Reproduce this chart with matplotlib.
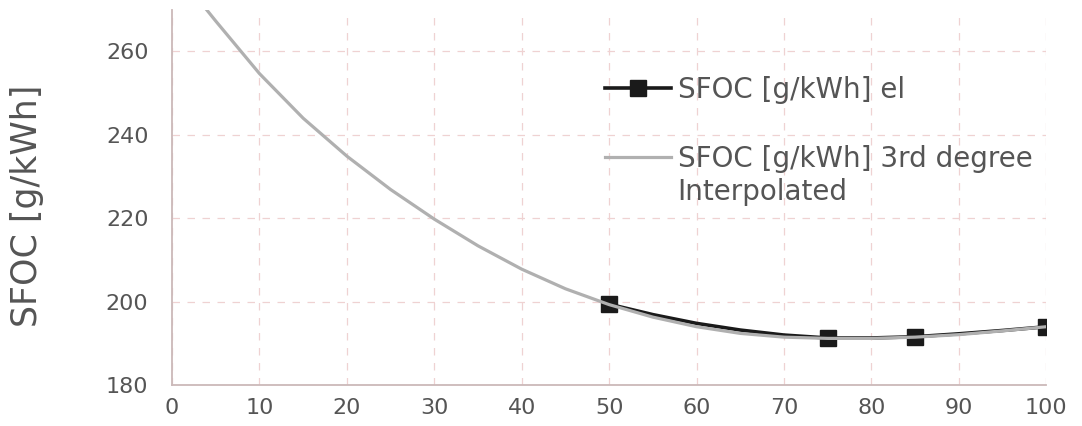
import matplotlib
matplotlib.use("Agg")
import matplotlib.pyplot as plt

load_el = [50, 55, 60, 65, 70, 75, 80, 85, 90, 95, 100]
sfoc_el = [199.4, 196.9, 194.8, 193.2, 192.0, 191.3, 191.3, 191.6, 192.3, 193.1, 194.0]
marker_idx = [0, 5, 7, 10]  # 50, 75, 85, 100 % load

# 3rd degree interpolated curve
load_fit = [3, 5, 10, 15, 20, 25, 30, 35, 40, 45, 50, 55, 60, 65, 70, 75, 80, 85, 90, 95, 100]
sfoc_fit = [272.5, 267.3, 254.7, 244.0, 234.9, 226.9, 219.8, 213.4, 207.8, 203.1, 199.3,
            196.3, 194.0, 192.4, 191.5, 191.2, 191.2, 191.5, 192.1, 193.0, 194.0]

xticks = list(range(0, 101, 10))
yticks = [180, 200, 220, 240, 260]

TXT = "#555555"

fig = plt.figure(figsize=(10.82, 4.26), dpi=100)
ax = fig.add_axes([0.159, 0.096, 0.808, 0.881])

ax.plot(load_el, sfoc_el, color="#1a1a1a", lw=2.6, marker="s", ms=12,
        markevery=marker_idx, label="SFOC [g/kWh] el", zorder=3)
ax.plot(load_fit, sfoc_fit, color="#b0b0b0", lw=2.3,
        label="SFOC [g/kWh] 3rd degree", zorder=4)

ax.set_xlim(0, 100)
ax.set_ylim(180, 270)
ax.set_xticks(xticks)
ax.set_yticks(yticks)
ax.tick_params(length=0, colors=TXT)
ax.tick_params(axis="x", pad=9)
ax.tick_params(axis="y", pad=17, labelsize=16)
for lab in ax.get_xticklabels():
    lab.set_fontfamily(["Liberation Sans Narrow", "DejaVu Sans"])
    lab.set_fontsize(16)

ax.grid(True, color="#efd2d2", linestyle=(0, (6, 6)), lw=0.9)
for s in ["top", "right"]:
    ax.spines[s].set_visible(False)
for s in ["left", "bottom"]:
    ax.spines[s].set_color("#cbb9b9")
    ax.spines[s].set_linewidth(1.3)

ax.set_ylabel("SFOC [g/kWh]", fontsize=25, color=TXT)
ax.yaxis.set_label_coords(-0.146, 0.479)

leg = ax.legend(loc="upper left", bbox_to_anchor=(0.495, 0.824), frameon=False,
                fontsize=20, handlelength=2.4, handletextpad=0.25,
                labelspacing=1.48, borderpad=0, borderaxespad=0, labelcolor=TXT)
leg.set_zorder(5)
ax.text(0.578, 0.515, "Interpolated", transform=ax.transAxes, fontsize=20,
        color=TXT, va="center", ha="left", zorder=5)

fig.savefig("out.png", dpi=100)
